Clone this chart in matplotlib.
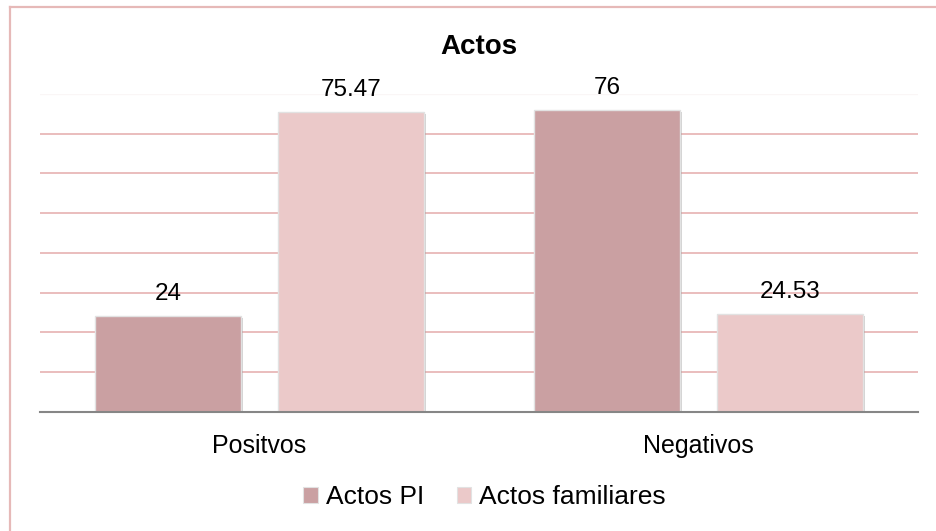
import numpy as np
import matplotlib
matplotlib.use("Agg")
from matplotlib import pyplot as plt
from matplotlib import patheffects
from matplotlib.lines import Line2D
from matplotlib.patches import Patch

plt.rcParams["font.family"] = ["Liberation Sans", "DejaVu Sans"]

# data
categories = ["Positvos", "Negativos"]
series_names = ["Actos PI", "Actos familiares"]
actos_pi = [24, 76]
actos_familiares = [75.47, 24.53]
value_labels = [["24", "76"], ["75.47", "24.53"]]

colors = ["#CAA0A2", "#EBC9C9"]
grid_color = "#E8B7B8"

fig = plt.figure(figsize=(9.36, 5.31), dpi=100)
ax = fig.add_axes([40 / 936, 1 - 411.7 / 531, 878 / 936, (411.7 - 94) / 531])

x = np.arange(len(categories))
width = 0.333
offset = 0.208

shadow = [patheffects.SimplePatchShadow(offset=(1.5, -1.5), shadow_rgbFace="#808080", alpha=0.35),
          patheffects.Normal()]

for i, (vals, col) in enumerate(zip([actos_pi, actos_familiares], colors)):
    pos = x + (-offset if i == 0 else offset)
    bars = ax.bar(pos, vals, width, color=col, edgecolor="#E2E2E2", linewidth=1.0,
                  label=series_names[i], zorder=3)
    for b in bars:
        b.set_path_effects(shadow)
    for p, v, lab in zip(pos, vals, value_labels[i]):
        ax.annotate(lab, (p, v), xytext=(0, 11.5), textcoords="offset points",
                    ha="center", va="baseline", fontsize=17.5, color="black", zorder=5)

# gridlines
for g in range(10, 80, 10):
    ax.axhline(g, color=grid_color, lw=1.3, zorder=1)
ax.axhline(80, color="#FAF6F6", lw=1.0, zorder=1)

ax.set_xlim(-0.5, 1.5)
ax.set_ylim(0, 80)
ax.set_yticks([])
ax.set_xticks(x)
ax.set_xticklabels(categories, fontsize=18)
ax.tick_params(axis="x", length=0, pad=16)
for s in ["top", "right", "left"]:
    ax.spines[s].set_visible(False)
ax.spines["bottom"].set_color("#868686")
ax.spines["bottom"].set_linewidth(1.5)
ax.spines["bottom"].set_zorder(4)

fig.text(479 / 936, 1 - 54 / 531, "Actos", ha="center", va="baseline",
         fontsize=20, fontweight="bold")

handles = [Patch(facecolor=c, edgecolor="#E2E2E2", linewidth=0.8) for c in colors]
fig.legend(handles, series_names, loc="center", bbox_to_anchor=(484.5 / 936, 1 - 497 / 531),
           ncol=2, frameon=False, fontsize=19, handlelength=0.55, handleheight=0.55,
           handletextpad=0.3, columnspacing=1.25)

# outer frame (top and left edges)
border = "#E6B9B8"
fig.add_artist(Line2D([10 / 936, 1], [1 - 7 / 531, 1 - 7 / 531], color=border, lw=1.6,
                      transform=fig.transFigure))
fig.add_artist(Line2D([10 / 936, 10 / 936], [0, 1 - 7 / 531], color=border, lw=1.6,
                      transform=fig.transFigure))

fig.savefig("out.png", dpi=100)
